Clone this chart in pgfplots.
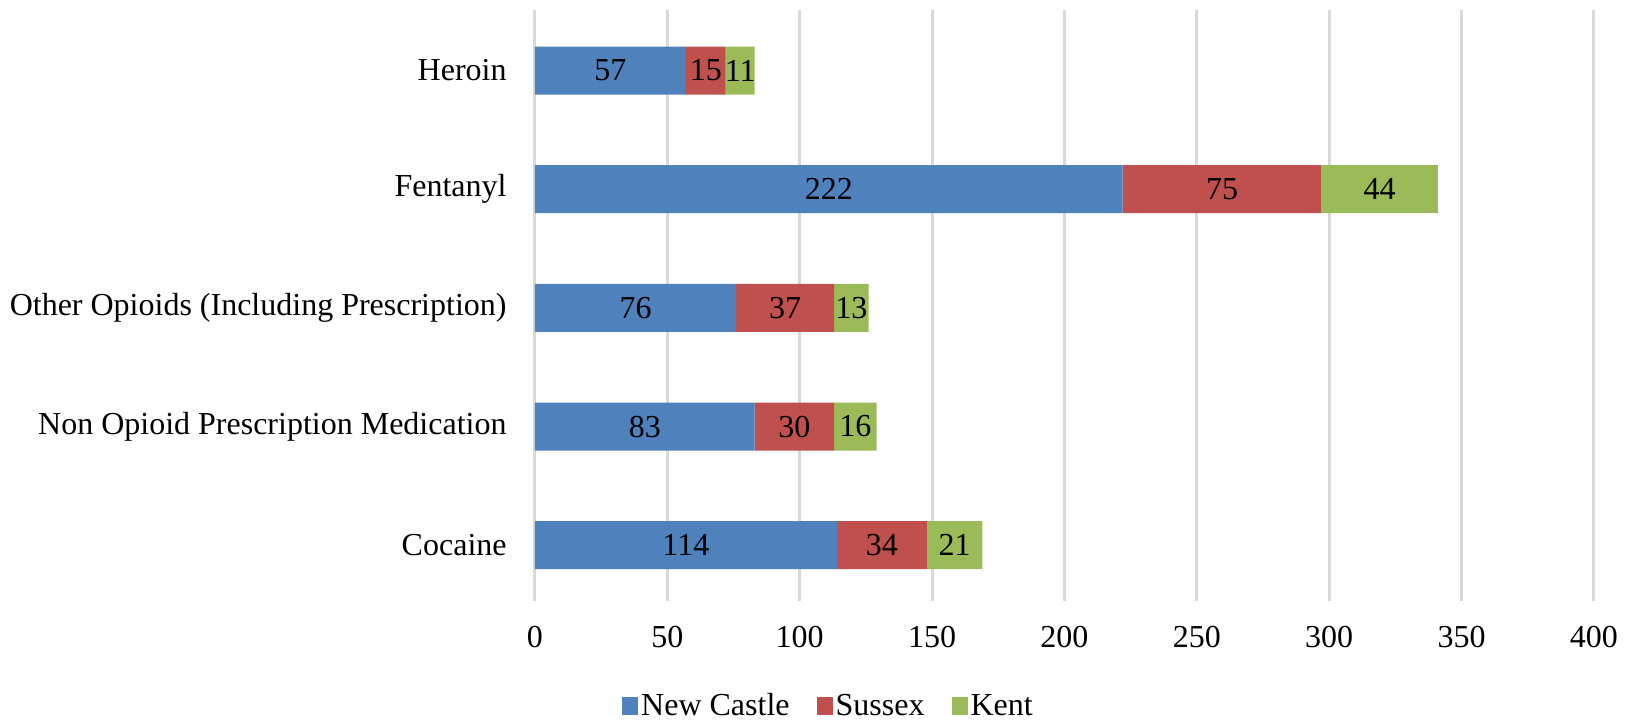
\documentclass[border=0pt]{standalone}
\usepackage{pgfplots}
\usepackage{pgfplotstable}
\pgfplotsset{compat=1.18}
\usepackage{fontspec}
\setmainfont{Liberation Serif}

\definecolor{nc}{HTML}{4F81BD}
\definecolor{sx}{HTML}{C0504D}
\definecolor{kt}{HTML}{9BBB59}
\definecolor{gridc}{HTML}{D9D9D9}

% deaths by drug and county
\pgfplotstableread{
pos newcastle sussex kent
0 114 34 21
1 83 30 16
2 76 37 13
3 222 75 44
4 57 15 11
}\drugs

\begin{document}
\begin{tikzpicture}[font=\fontsize{16}{19}\selectfont]
\useasboundingbox (-267.5pt,-61pt) rectangle (547.5pt,300.5pt);
\begin{axis}[
    xbar stacked,
    scale only axis,
    width=529.5pt, height=295.5pt,
    xmin=0, xmax=400,
    ymin=-0.47, ymax=4.51,
    bar width=24pt,
    xtick={0,50,...,400},
    ytick={0,1,2,3,4},
    yticklabels={Cocaine,Non Opioid Prescription Medication,Other Opioids (Including Prescription),Fentanyl,Heroin},
    xmajorgrids,
    major grid style={gridc, line width=1.5pt},
    axis line style={draw=none},
    major tick length=0pt,
    /pgf/number format/assume math mode=true,
    yticklabel style={inner sep=0pt, xshift=-14pt},
    xticklabel style={inner sep=0pt, yshift=-12.5pt},
    point meta=explicit symbolic,
    nodes near coords={\pgfplotspointmeta},
    every node near coord/.append style={anchor=center, inner sep=0pt, black},
    legend columns=3,
    legend style={at={(0.2776,-0.178)}, anchor=center, draw=none, fill=none,
        nodes={inner xsep=1.5pt, inner ysep=0pt},
        /tikz/every even column/.append style={column sep=12pt}},
    legend image code/.code={\fill[#1] (0pt,-4.5pt) rectangle (8pt,4.5pt);},
]
\addplot[fill=nc, draw=none] table[x=newcastle, y=pos, meta=newcastle]{\drugs};
\addplot[fill=sx, draw=none] table[x=sussex, y=pos, meta=sussex]{\drugs};
\addplot[fill=kt, draw=none] table[x=kent, y=pos, meta=kent]{\drugs};
\legend{New Castle,Sussex,Kent}
\end{axis}
\end{tikzpicture}
\end{document}
